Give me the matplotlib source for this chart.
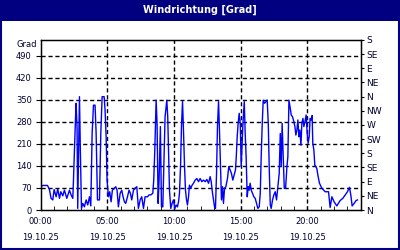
import matplotlib
matplotlib.use("Agg")
import matplotlib.pyplot as plt
from matplotlib.patches import Rectangle

# time in hours (19.10.25), wind direction in degrees
hours = [
    0.00, 0.15, 0.50, 0.65, 0.77, 0.90, 1.00, 1.15, 1.27, 1.40, 1.50, 1.65, 1.77, 1.95,
    2.15, 2.27, 2.40, 2.45, 2.52, 2.60, 2.65, 2.72, 2.77, 2.90, 2.97, 3.05, 3.15, 3.27,
    3.40, 3.52, 3.65, 3.75, 3.85, 3.95, 4.07, 4.15, 4.25, 4.40, 4.50, 4.60, 4.75, 4.82,
    4.90, 4.97,
    5.07, 5.17, 5.27, 5.37, 5.52, 5.62, 5.72, 5.82, 5.95, 6.07, 6.17, 6.27, 6.37, 6.50,
    6.62, 6.72, 6.82, 6.95, 7.07, 7.20, 7.32, 7.45, 7.57, 7.70, 7.82, 8.00, 8.12, 8.25,
    8.40, 8.47, 8.55, 8.60, 8.65, 8.72, 8.80, 8.87, 8.97, 9.05, 9.15, 9.32, 9.45, 9.52,
    9.65, 9.75, 9.85, 9.95,
    10.05, 10.15, 10.25, 10.33, 10.40, 10.48, 10.55, 10.63, 10.70, 10.78, 10.85, 10.93,
    11.00, 11.08, 11.15, 11.25, 11.35, 11.45, 11.58, 11.70, 11.83, 11.95, 12.08, 12.20,
    12.33, 12.45, 12.58, 12.70, 12.78, 12.88, 12.95, 13.03, 13.10, 13.18, 13.25, 13.33,
    13.40, 13.48, 13.55, 13.63, 13.70, 13.78, 13.88, 14.00, 14.10, 14.20, 14.30, 14.40,
    14.50, 14.60, 14.66, 14.73, 14.80, 14.88, 14.96,
    15.03, 15.08, 15.16, 15.26, 15.33, 15.40, 15.48, 15.56, 15.63, 15.70, 15.78, 15.88,
    15.98, 16.08, 16.18, 16.28, 16.38, 16.46, 16.53, 16.60, 16.68, 16.78, 16.88, 16.98,
    17.06, 17.13, 17.21, 17.28, 17.38, 17.48, 17.58, 17.68, 17.78, 17.88, 17.96, 18.03,
    18.10, 18.18, 18.26, 18.36, 18.46, 18.53, 18.61, 18.71, 18.78, 18.88, 18.98, 19.06,
    19.13, 19.21, 19.28, 19.36, 19.43, 19.51, 19.58, 19.66, 19.73, 19.81,
    19.90, 19.98, 20.05, 20.13, 20.20, 20.28, 20.35, 20.40, 20.48, 20.55, 20.62, 20.70,
    20.78, 20.90, 21.08, 21.33, 21.58, 21.70, 21.83, 22.00, 22.20, 22.45, 22.65, 22.83,
    23.00, 23.15, 23.25, 23.35, 23.50, 23.65, 23.75,
]
direction = [
    75, 78, 78, 65, 37, 32, 65, 42, 67, 37, 58, 45, 63, 37,
    63, 48, 37, 95, 190, 288, 339, 259, 5, 360, 180, 5, 21, 10,
    32, 16, 42, 13, 243, 333, 333, 243, 32, 32, 243, 360, 360, 317,
    233, 95,
    42, 58, 26, 63, 69, 74, 63, 10, 53, 63, 42, 26, 21, 42,
    63, 53, 32, 63, 69, 74, 5, 32, 42, 5, 42, 42, 48, 48,
    53, 95, 190, 275, 349, 275, 21, 95, 265, 10, 10, 296, 349, 296,
    63, 5, 21, 32,
    5, 16, 10, 26, 53, 138, 265, 344, 254, 138, 63, 32,
    16, 42, 79, 69, 79, 85, 95, 100, 90, 100, 90, 95,
    90, 97, 85, 106, 90, 53, 32, 10, 5, 116, 265, 344,
    254, 138, 32, 74, 21, 69, 74, 100, 138, 127, 116, 95,
    111, 127, 169, 233, 275, 307, 275,
    138, 191, 275, 344, 243, 169, 42, 74, 63, 85, 63, 53,
    42, 37, 21, 5, 10, 53, 169, 265, 349, 339, 344, 349,
    275, 138, 16, 5, 32, 48, 58, 32, 74, 116, 243, 138,
    275, 169, 69, 69, 138, 169, 349, 323, 302, 296, 280, 265,
    238, 254, 286, 233, 254, 206, 275, 291, 265, 280,
    302, 243, 212, 233, 291, 286, 300, 212, 191, 143, 138, 132,
    111, 85, 69, 58, 58, 8, 42, 26, 13, 30, 37, 48,
    58, 72, 48, 13, 21, 30, 32,
]

left_ticks = [0, 70, 140, 210, 280, 350, 420, 490]
compass_ticks = [0, 45, 90, 135, 180, 225, 270, 315, 360, 405, 450, 495, 540]
compass_labels = ["N", "NE", "E", "SE", "S", "SW", "W", "NW", "N", "NE", "E", "SE", "S"]
time_ticks = [0, 5, 10, 15, 20]
time_labels = ["00:00\n19.10.25", "05:00\n19.10.25", "10:00\n19.10.25",
               "15:00\n19.10.25", "20:00\n19.10.25"]
title = "Windrichtung [Grad]"
navy = "#000080"
txt = "#000033"

fig = plt.figure(figsize=(4, 2.5), dpi=100)
fig.patch.set_facecolor("white")

# title bar
fig.add_artist(Rectangle((0, 0.918), 1, 0.082, transform=fig.transFigure,
                         facecolor=navy, edgecolor="none", zorder=0))
fig.text(0.5, 0.959, title, color="white", fontsize=7, fontweight="bold",
         ha="center", va="center", family="DejaVu Sans")
# frame
fig.add_artist(Rectangle((0.002, 0.003), 0.996, 0.994, transform=fig.transFigure,
                         facecolor="none", edgecolor=navy, linewidth=1.5, zorder=5))

ax = fig.add_axes([0.102, 0.16, 0.8, 0.68])
ax.plot(hours, direction, color="#0000ff", linewidth=1.0, zorder=3)
ax.set_xlim(0, 24)
ax.set_ylim(0, 540)

ax.set_yticks(left_ticks)
ax.set_yticklabels([str(v) for v in left_ticks], fontsize=6, color=txt)
ax.tick_params(axis="y", left=False, pad=3)
ax.set_xticks(time_ticks)
ax.set_xticklabels(time_labels, fontsize=6, color=txt, linespacing=2.0)
ax.set_xticks(range(0, 25), minor=True)
ax.tick_params(axis="x", which="both", direction="in", length=3, pad=5, color="black")
ax.text(-0.012, 525, "Grad", transform=ax.get_yaxis_transform(), ha="right",
        va="center", fontsize=6, color=txt)

for v in left_ticks[1:]:
    ax.axhline(v, color="black", linestyle=(0, (3, 2)), linewidth=1.0, zorder=2)
for t in time_ticks[1:]:
    ax.axvline(t, color="black", linestyle=(0, (3, 2)), linewidth=1.0, zorder=2)

for s in ax.spines.values():
    s.set_color("black")
    s.set_linewidth(1.0)

ax2 = ax.twinx()
ax2.set_ylim(0, 540)
ax2.set_yticks(compass_ticks)
ax2.set_yticklabels(compass_labels, fontsize=6.5, color=txt)
ax2.tick_params(axis="y", direction="out", length=2, pad=2, color="black")

fig.savefig("out.png", dpi=100, facecolor="white")
